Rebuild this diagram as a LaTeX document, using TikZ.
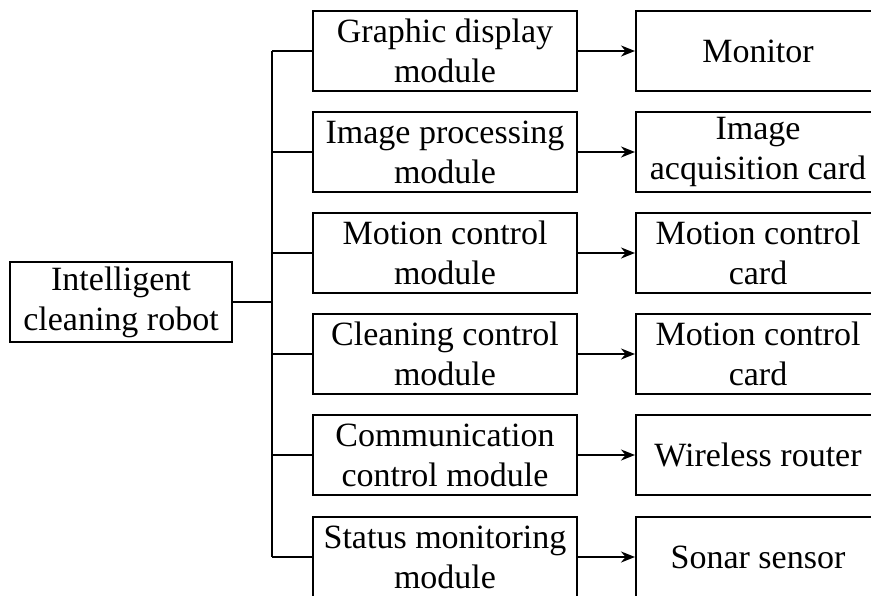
\documentclass[tikz,border=0pt]{standalone}
\usepackage{fontspec}
\setmainfont{Liberation Serif}
\usetikzlibrary{arrows.meta}
\begin{document}
\begin{tikzpicture}[x=1pt,y=-1pt,
  box/.style={draw, line width=2pt, align=center, inner sep=0pt,
    minimum height=80pt, font=\fontsize{34}{40}\selectfont},
  root/.style={box, minimum width=222pt},
  module/.style={box, minimum width=264pt},
  device/.style={box, minimum width=244pt},
  link/.style={line width=2pt},
  feed/.style={link, -{Stealth[length=14pt,width=11pt]}}]
\useasboundingbox (0,0) rectangle (871,595);
\clip (0,0) rectangle (871,595);

\node[root] (R) at (121,302) {Intelligent\\cleaning robot};

\node[module] (M1) at (445,51)  {Graphic display\\module};
\node[module] (M2) at (445,152) {Image processing\\module};
\node[module] (M3) at (445,253) {Motion control\\module};
\node[module] (M4) at (445,354) {Cleaning control\\module};
\node[module] (M5) at (445,455) {Communication\\control module};
\node[module] (M6) at (445,557) {Status monitoring\\module};

\node[device] (D1) at (758,51)  {Monitor};
\node[device] (D2) at (758,152) {Image\\acquisition card};
\node[device] (D3) at (758,253) {Motion control\\card};
\node[device] (D4) at (758,354) {Motion control\\card};
\node[device] (D5) at (758,455) {Wireless router};
\node[device] (D6) at (758,557) {Sonar sensor};

% trunk from the robot to every module
\coordinate (T) at (272,302);
\draw[link] (R.east) -- (T);
\draw[link] (T |- M1) -- (T |- M6);
\foreach \i in {1,...,6}{
  \draw[link] (T |- M\i) -- (M\i.west);
  \draw[feed] (M\i.east) -- (D\i.west);
}
\end{tikzpicture}
\end{document}
